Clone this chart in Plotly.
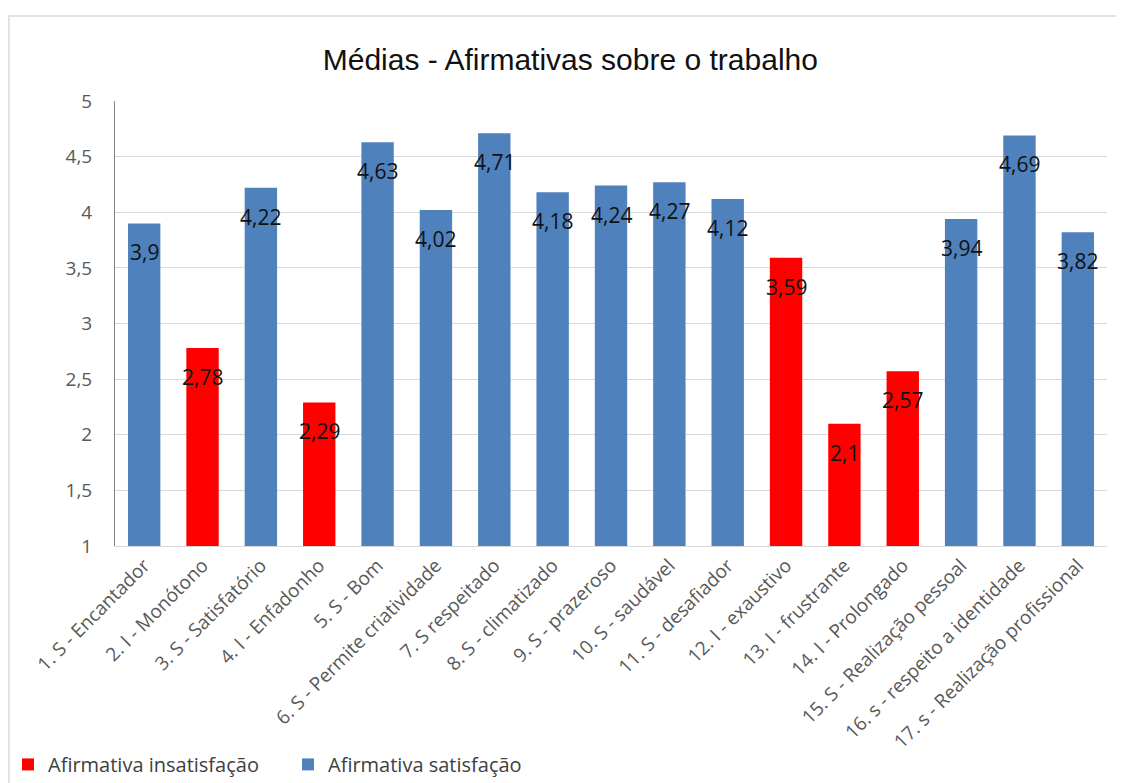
import plotly.graph_objects as go

categories = [
    "1. S - Encantador",
    "2. I - Monótono",
    "3. S - Satisfatório",
    "4. I - Enfadonho",
    "5. S - Bom",
    "6. S - Permite criatividade",
    "7. S respeitado",
    "8. S - climatizado",
    "9. S - prazeroso",
    "10. S - saudável",
    "11. S - desafiador",
    "12. I - exaustivo",
    "13. I - frustrante",
    "14. I - Prolongado",
    "15. S - Realização pessoal",
    "16. s - respeito a identidade",
    "17. s - Realização profissional",
]
values = [3.9, 2.78, 4.22, 2.29, 4.63, 4.02, 4.71, 4.18, 4.24, 4.27, 4.12,
          3.59, 2.1, 2.57, 3.94, 4.69, 3.82]
kinds = ["S", "I", "S", "I", "S", "S", "S", "S", "S", "S", "S",
         "I", "I", "I", "S", "S", "S"]

series_names = {"I": "Afirmativa insatisfação", "S": "Afirmativa satisfação"}
series_colors = {"I": "#FF0000", "S": "#4F81BD"}
y_ticks = [1, 1.5, 2, 2.5, 3, 3.5, 4, 4.5, 5]

fig = go.Figure()
for k in ["I", "S"]:
    xs = [c for c, kk in zip(categories, kinds) if kk == k]
    ys = [v for v, kk in zip(values, kinds) if kk == k]
    fig.add_trace(go.Bar(
        x=xs, y=ys, name=series_names[k],
        marker=dict(color=series_colors[k], line=dict(width=0)),
        hoverinfo="x+y",
    ))

for c, v in zip(categories, values):
    fig.add_annotation(
        x=c, y=v, text=str(v).replace(".", ","), showarrow=False,
        yshift=-29, yanchor="middle", xanchor="center",
        font=dict(family="Open Sans", size=21, color="#111111"),
    )

# outer chart border
fig.add_shape(type="rect", xref="paper", yref="paper",
              x0=-0.1069, x1=1.06, y0=-0.7, y1=1.191,
              line=dict(color="#D9D9D9", width=1.5), layer="below")

fig.update_layout(
    width=1116, height=775,
    margin=dict(l=107, r=17, t=93, b=237, autoexpand=False),
    paper_bgcolor="white", plot_bgcolor="white",
    separators=",.",
    barmode="overlay", bargap=0.445,
    title=dict(
        text="Médias - Afirmativas sobre o trabalho",
        x=0.459, xref="paper", xanchor="center",
        y=0.933, yref="container", yanchor="middle",
        font=dict(family="Liberation Sans, Arial", size=30, color="#111111"),
    ),
    legend=dict(
        orientation="h", xref="container", yref="container",
        x=0.0, y=0.024, xanchor="left", yanchor="middle",
        entrywidth=235, entrywidthmode="pixels",
        font=dict(family="Open Sans", size=20, color="#404040"),
        bgcolor="rgba(0,0,0,0)", traceorder="normal",
    ),
    showlegend=True,
)

fig.update_xaxes(
    type="category", categoryorder="array", categoryarray=categories,
    tickangle=-45, automargin=False,
    tickfont=dict(family="Open Sans", size=19, color="#595959"),
    showline=True, linecolor="#D9D9D9", linewidth=1,
    showgrid=False, ticks="",
)
fig.update_yaxes(
    range=[1, 5], tickvals=y_ticks, automargin=False,
    tickfont=dict(family="Open Sans", size=19, color="#595959"),
    showgrid=True, gridcolor="#D9D9D9", gridwidth=1,
    showline=True, linecolor="#868686", linewidth=1,
    ticks="", zeroline=False, ticklabelstandoff=18,
)

fig.write_html("out.html")
